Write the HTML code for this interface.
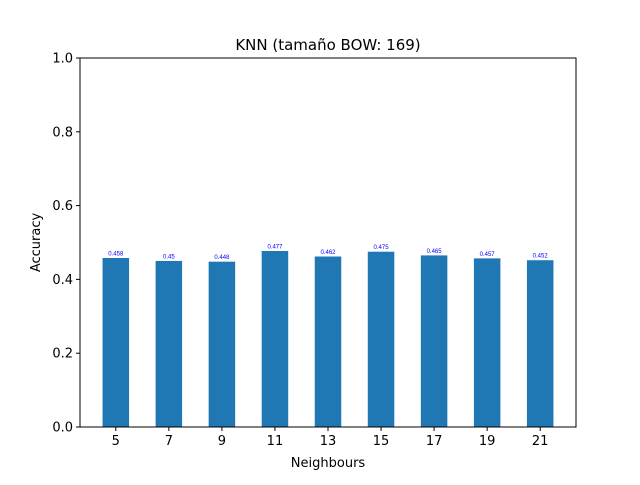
<!DOCTYPE html>
<html><head><meta charset="utf-8"><style>
body{margin:0;background:#fff;font-family:"Liberation Sans","DejaVu Sans",sans-serif;}
</style></head><body>
<svg id="chart" width="640" height="480" xmlns="http://www.w3.org/2000/svg">
<rect width="640" height="480" fill="#fff"/>
<text x="328" y="50" font-size="15" text-anchor="middle" font-family="DejaVu Sans, sans-serif">KNN (tamaño BOW: 169)</text>
<g id="bars"></g>
<g id="axes"></g>
<rect x="80" y="58" width="496" height="369" fill="none" stroke="#000" stroke-width="1"/>
<text x="328" y="467" font-size="13" text-anchor="middle" font-family="DejaVu Sans, sans-serif">Neighbours</text>
<text transform="translate(40,242.5) rotate(-90)" font-size="13" text-anchor="middle" font-family="DejaVu Sans, sans-serif">Accuracy</text>
</svg>
<script>
const categories = ["5","7","9","11","13","15","17","19","21"];
const values = [0.458,0.45,0.448,0.477,0.462,0.475,0.465,0.457,0.452];
const valueLabels = ["0.458","0.45","0.448","0.477","0.462","0.475","0.465","0.457","0.452"];
const yTicks = [0,0.2,0.4,0.6,0.8,1.0];
const yTickLabels = ["0.0","0.2","0.4","0.6","0.8","1.0"];

const NS="http://www.w3.org/2000/svg";
const L=80,R=576,T=58,B=427;
const xmin=-0.675,xmax=categories.length-1+0.675;
const xs=i=>L+(i-xmin)/(xmax-xmin)*(R-L);
const ys=v=>B-v*(B-T);
const bw=0.5*(R-L)/(xmax-xmin);
const bars=document.getElementById('bars'),axes=document.getElementById('axes');
function mk(t,a,p){const e=document.createElementNS(NS,t);for(const k in a)e.setAttribute(k,a[k]);p.appendChild(e);return e;}
values.forEach((v,i)=>{
  const r=mk('rect',{x:xs(i)-bw/2,y:ys(v),width:bw,height:B-ys(v),fill:'#1f77b4'},bars);
  
  
  const t=mk('text',{x:xs(i),y:ys(v)-2.5,'font-size':'6',fill:'#0000ff','text-anchor':'middle'},bars);
  t.textContent=valueLabels[i];
  
  
  mk('line',{x1:xs(i),x2:xs(i),y1:B,y2:B+4,stroke:'#000'},axes);
  const xl=mk('text',{x:xs(i),y:B+18,'font-size':'13','text-anchor':'middle','font-family':'DejaVu Sans, sans-serif'},axes);
  xl.textContent=categories[i];
  
  
});
yTicks.forEach((v,i)=>{
  mk('line',{x1:L-4,x2:L,y1:ys(v),y2:ys(v),stroke:'#000'},axes);
  const yl=mk('text',{x:L-7,y:ys(v)+4.5,'font-size':'13','text-anchor':'end','font-family':'DejaVu Sans, sans-serif'},axes);
  yl.textContent=yTickLabels[i];
  
  
});
</script>
</body></html>
